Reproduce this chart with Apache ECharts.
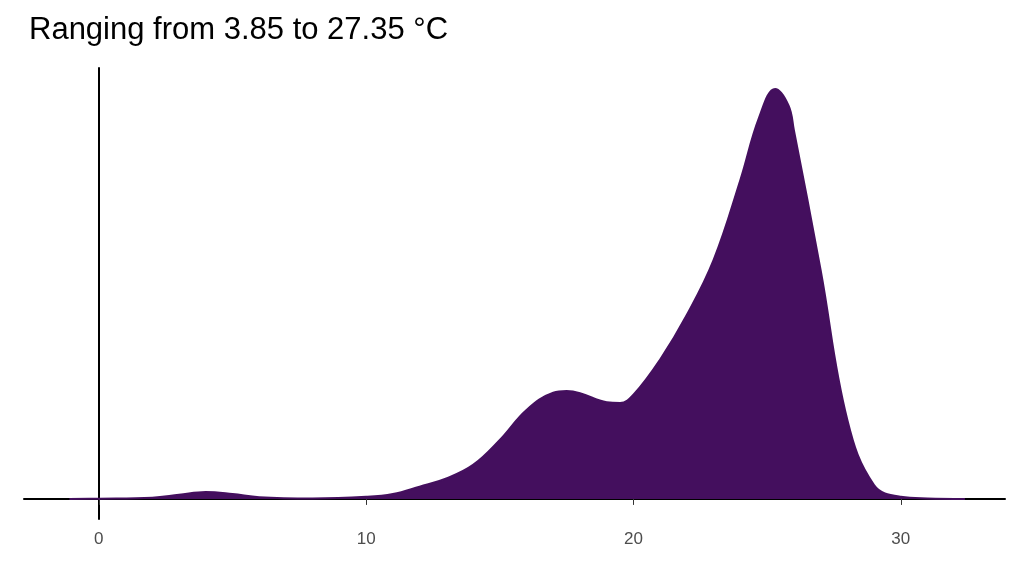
<!DOCTYPE html>
<html><head><meta charset="utf-8">
<script src="https://cdn.jsdelivr.net/npm/echarts@6/dist/echarts.min.js"></script>
<style>html,body{margin:0;padding:0;background:#fff}#c{width:1024px;height:576px}</style>
</head><body><div id="c"></div>
<script>
const temps = [-1.1,0,2,3,4,5,6,8,10,11,12,13,14,15,16,17,17.5,18,19,19.5,20,21,22,23,24,24.7,25.3,25.8,26,27,28,29,30,31,32.4];
const density = [0,0.0005,0.003,0.01,0.017,0.012,0.004,0.001,0.005,0.012,0.03,0.05,0.083,0.144,0.217,0.259,0.263,0.258,0.236,0.234,0.254,0.34,0.449,0.583,0.778,0.93,1.0,0.96,0.9,0.559,0.193,0.034,0.005,0.001,0];
const xTicks = [0,10,20,30];
const chart = echarts.init(document.getElementById('c'));
chart.setOption({
  animation:false,
  title:{text:'Ranging from 3.85 to 27.35 °C',left:24,top:10,textStyle:{fontFamily:'Liberation Sans, Arial',fontSize:31,fontWeight:'normal',color:'#000'}},
  grid:{left:24,right:19,top:68,bottom:57},
  xAxis:{type:'value',min:-2.8,max:33.9,
    axisLine:{lineStyle:{color:'#000',width:2}},
    axisTick:{show:true,customValues:xTicks,length:6,lineStyle:{color:'#333'}},
    axisLabel:{customValues:xTicks,color:'#4d4d4d',fontSize:17,fontFamily:'Liberation Sans, Arial',margin:12},
    splitLine:{show:false}},
  yAxis:{type:'value',min:-0.049,max:1.051,
    axisLine:{show:true,lineStyle:{color:'#000',width:2}},
    axisTick:{show:false},axisLabel:{show:false},splitLine:{show:false}},
  series:[{type:'line',smooth:0.4,symbol:'none',data:temps.map((t,i)=>[t,density[i]]),
    lineStyle:{color:'#440f5e',width:2},areaStyle:{color:'#440f5e',opacity:1,origin:0}}]
});
</script></body></html>
